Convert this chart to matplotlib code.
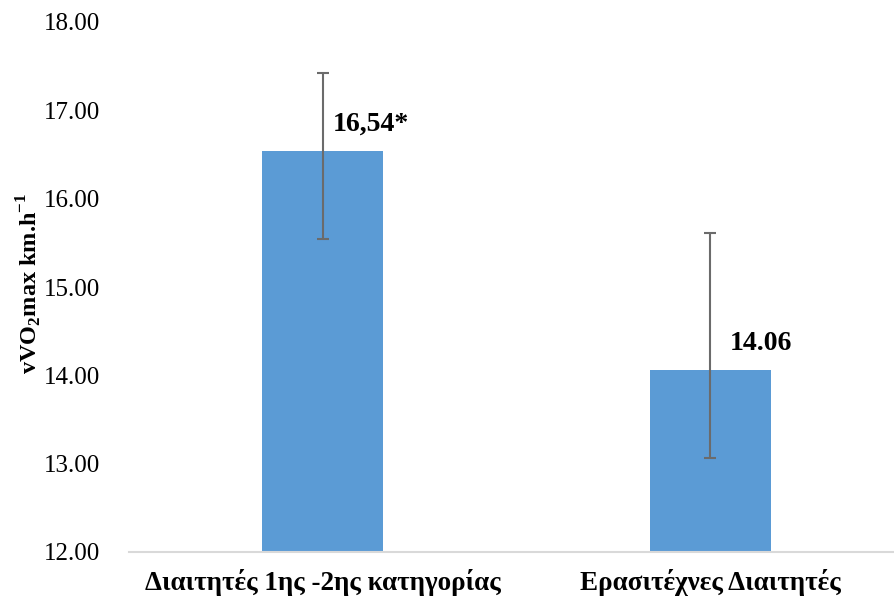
import numpy as np
import matplotlib
matplotlib.use("Agg")
import matplotlib.pyplot as plt

plt.rcParams['font.family'] = ['Liberation Serif', 'DejaVu Serif']
plt.rcParams['mathtext.fontset'] = 'custom'
plt.rcParams['mathtext.rm'] = 'Liberation Serif:bold'
plt.rcParams['mathtext.bf'] = 'Liberation Serif:bold'

# data
categories = ['Διαιτητές 1ης -2ης κατηγορίας', 'Ερασιτέχνες Διαιτητές']
means = [16.54, 14.06]
err_low = [1.00, 1.00]
err_high = [0.88, 1.55]
bar_labels = ['16,54*', '14.06']

fig = plt.figure(figsize=(8.95, 6.04), dpi=100)
ax = fig.add_axes([129 / 895, 52 / 604, 765 / 895, 530 / 604])

x = np.arange(len(categories))
ax.bar(x, np.array(means) - 12, bottom=12, width=0.312, color='#5B9BD5', zorder=2)
ax.errorbar(x, means, yerr=[err_low, err_high], fmt='none', ecolor='#6b6b6b',
            elinewidth=1.5, capsize=4.5, capthick=1.5, zorder=3)

# value labels to the right of the error bars
offsets = [0.025, 0.05]
for xi, m, lab, off in zip(x, means, bar_labels, offsets):
    ax.text(xi + off, m + 0.3, lab, ha='left', va='center',
            fontsize=20, fontweight='bold')

ax.set_xlim(-0.5, 1.474)
ax.set_ylim(12, 18)
ax.set_yticks(np.arange(12, 18.01, 1))
ax.set_yticklabels([f'{v:.2f}' for v in np.arange(12, 18.01, 1)], fontsize=18)
ax.set_xticks(x)
ax.set_xticklabels(categories, fontsize=19.5, fontweight='bold')
ax.tick_params(axis='both', length=0)
ax.tick_params(axis='y', pad=21)
ax.tick_params(axis='x', pad=12)

for s in ['top', 'right', 'left']:
    ax.spines[s].set_visible(False)
ax.spines['bottom'].set_color('#d9d9d9')
ax.spines['bottom'].set_linewidth(1.5)

ax.set_ylabel(r'vVO$_{2}$max km.h$^{-1}$', fontsize=17.5, fontweight='bold', va='center')
ax.yaxis.set_label_coords(-0.131, 0.506)

fig.savefig('out.png', dpi=100)
